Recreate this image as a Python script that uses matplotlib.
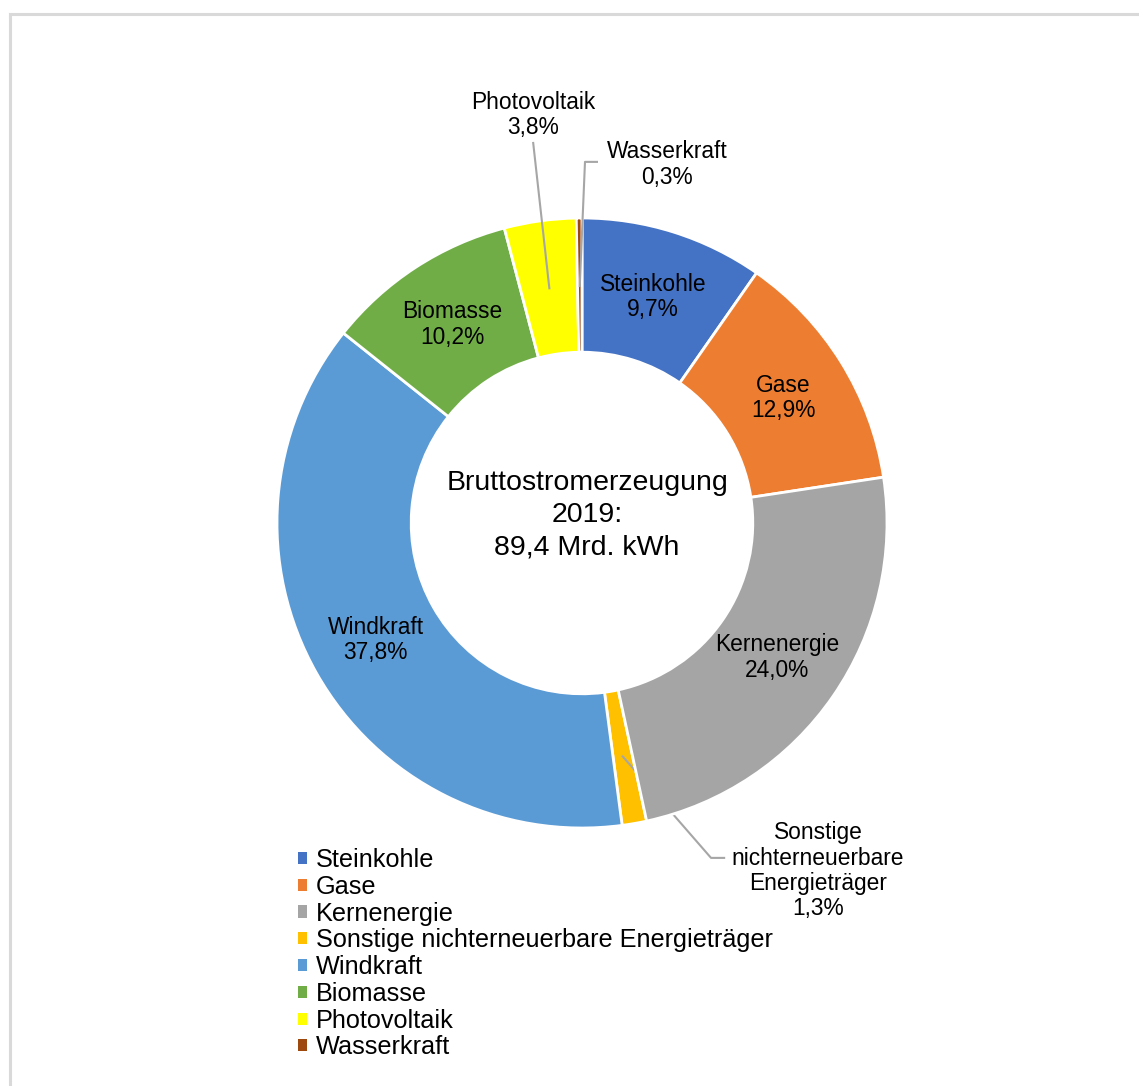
import numpy as np
import matplotlib.pyplot as plt
import matplotlib.patches as mpatches
from matplotlib.lines import Line2D

plt.rcParams['font.family'] = ['Liberation Sans', 'DejaVu Sans']

# Daten: Bruttostromerzeugung 2019 (Anteile in %)
labels = ['Steinkohle', 'Gase', 'Kernenergie', 'Sonstige nichterneuerbare Energieträger',
          'Windkraft', 'Biomasse', 'Photovoltaik', 'Wasserkraft']
shares = [9.7, 12.9, 24.0, 1.3, 37.8, 10.2, 3.8, 0.3]
colors = ['#4472C4', '#ED7D31', '#A5A5A5', '#FFC000',
          '#5B9BD5', '#70AD47', '#FFFF00', '#9E480E']
center_text = 'Bruttostromerzeugung\n2019:\n89,4 Mrd. kWh'

W, H = 1139, 1086
fig = plt.figure(figsize=(W / 100, H / 100), dpi=100)

# grauer Rahmen (oben und links)
fig.add_artist(Line2D([10 / W, 1], [1 - 14 / H, 1 - 14 / H], color='#D9D9D9', lw=2.2))
fig.add_artist(Line2D([10 / W, 10 / W], [0, 1 - 14 / H], color='#D9D9D9', lw=2.2))

ax = fig.add_axes([277 / W, (H - 828) / H, 610 / W, 610 / H])
wedges, _ = ax.pie(shares, colors=colors, startangle=90, counterclock=False, radius=1,
                   wedgeprops=dict(width=0.44, edgecolor='white', linewidth=2))
ax.set_xlim(-1, 1)
ax.set_ylim(-1, 1)
ax.axis('off')


def fmt(v):
    return f'{v:.1f}%'.replace('.', ',')


def mid_point(w, r=0.777):
    a = np.deg2rad((w.theta1 + w.theta2) / 2)
    return r * np.cos(a), r * np.sin(a)


fs = 16.4
ls = 1.13
# Beschriftungen innerhalb der Segmente
for i in [0, 1, 2, 4, 5]:
    x, y = mid_point(wedges[i])
    ax.text(x, y, f'{labels[i]}\n{fmt(shares[i])}', ha='center', va='center',
            fontsize=fs, linespacing=ls, color='black')

lc = '#A6A6A6'
# Photovoltaik
x0, y0 = mid_point(wedges[6])
ax.plot([x0, -0.16], [y0, 1.246], color=lc, lw=1.5, clip_on=False, zorder=5)
ax.text(-0.16, 1.338, f'Photovoltaik\n{fmt(shares[6])}', ha='center', va='center',
        fontsize=fs, linespacing=ls)

# Wasserkraft
x0, y0 = mid_point(wedges[7])
ax.plot([x0, 0.0098, 0.049], [y0, 1.184, 1.184], color=lc, lw=1.5, clip_on=False, zorder=5)
ax.text(0.279, 1.175, f'Wasserkraft\n{fmt(shares[7])}', ha='center', va='center',
        fontsize=fs, linespacing=ls)

# Sonstige (Linie liegt hinter dem Kernenergie-Segment)
x0, y0 = mid_point(wedges[3])
ax.plot([x0, 0.423, 0.466], [y0, -1.098, -1.098], color=lc, lw=1.5, clip_on=False, zorder=2)
wedges[2].set_zorder(3)
ax.text(0.774, -1.140, f'Sonstige\nnichterneuerbare\nEnergieträger\n{fmt(shares[3])}',
        ha='center', va='center', fontsize=fs, linespacing=ls)

# Text in der Mitte
ax.text(0.017, 0.025, center_text, ha='center', va='center', fontsize=20.5, linespacing=1.32)

handles = [mpatches.Patch(facecolor=c, edgecolor='none') for c in colors]
fig.legend(handles, labels, loc='upper left', bbox_to_anchor=(298 / W, 1 - 848 / H),
           frameon=False, fontsize=18.2, handlelength=0.36, handleheight=0.36,
           handletextpad=0.36, labelspacing=0.11, borderpad=0, borderaxespad=0)

fig.savefig('out.png', dpi=100)
